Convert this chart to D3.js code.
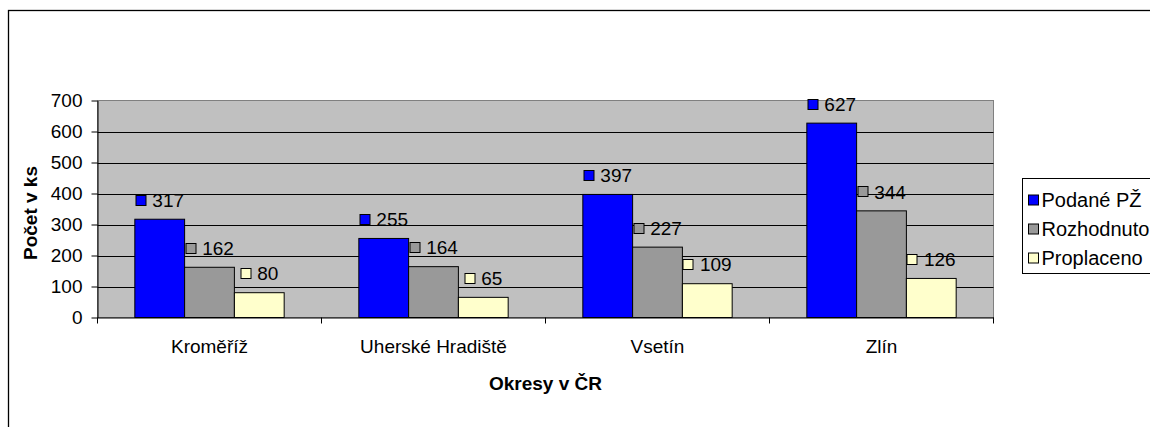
<!DOCTYPE html>
<html>
<head>
<meta charset="utf-8">
<script src="https://cdn.jsdelivr.net/npm/d3@7"></script>
<style>
  body { margin: 0; background: #fff; overflow: hidden; }
  svg { display: block; font-family: "Liberation Sans", Arial, sans-serif; }
</style>
</head>
<body>
<script>
// chart data
var categories = ["Kroměříž", "Uherské Hradiště", "Vsetín", "Zlín"];
var seriesNames = ["Podané PŽ", "Rozhodnuto", "Proplaceno"];
var podane = [317, 255, 397, 627];
var rozhodnuto = [162, 164, 227, 344];
var proplaceno = [80, 65, 109, 126];
var yTicks = [0, 100, 200, 300, 400, 500, 600, 700];
var colors = ["#0000FF", "#999999", "#FFFFCC"];

var width = 1150, height = 427;
var plot = {left: 97.5, right: 993.5, top: 100.5, bottom: 317.5};
var fontSize = 19;

var svg = d3.select("body").append("svg")
    .attr("width", width)
    .attr("height", height);

// outer chart frame (right and bottom edges fall outside the picture)
svg.append("rect")
    .attr("x", 8.5).attr("y", 10.5)
    .attr("width", 1300).attr("height", 600)
    .attr("fill", "#fff")
    .attr("stroke", "#000")
    .attr("stroke-width", 1.3);

var y = d3.scaleLinear().domain([0, 700]).range([plot.bottom, plot.top]);
var x0 = d3.scaleBand().domain(categories).range([plot.left, plot.right]);
var x1 = d3.scaleBand().domain(seriesNames).range([0, x0.bandwidth()])
    .paddingInner(0).paddingOuter(0.75);

// plot background
svg.append("rect")
    .attr("x", plot.left).attr("y", plot.top)
    .attr("width", plot.right - plot.left)
    .attr("height", plot.bottom - plot.top)
    .attr("fill", "#C0C0C0")
    .attr("stroke", "#808080");

// gridlines
svg.append("g").selectAll("line")
    .data(yTicks.filter(function(t) { return t > 0 && t < 700; }))
    .enter().append("line")
    .attr("x1", plot.left).attr("x2", plot.right)
    .attr("y1", function(d) { return Math.round(y(d)) + 0.5; })
    .attr("y2", function(d) { return Math.round(y(d)) + 0.5; })
    .attr("stroke", "#000");

// y axis
var yAxis = svg.append("g")
    .attr("transform", "translate(" + plot.left + ",0)")
    .call(d3.axisLeft(y).tickValues(yTicks).tickSize(6).tickPadding(9).tickSizeOuter(0));
yAxis.select(".domain").attr("stroke", "#000");
yAxis.selectAll("text").attr("font-size", fontSize).attr("font-family", "Liberation Sans, Arial, sans-serif").attr("fill", "#000");

// x axis
var xAxis = svg.append("g")
    .attr("transform", "translate(0," + plot.bottom + ")")
    .call(d3.axisBottom(x0).tickSize(0).tickPadding(22));
xAxis.select(".domain").attr("stroke", "#000");
xAxis.selectAll("text").attr("font-size", fontSize).attr("font-family", "Liberation Sans, Arial, sans-serif").attr("fill", "#000");
// tick marks between categories
svg.append("g").selectAll("line")
    .data(categories.concat(["end"]))
    .enter().append("line")
    .attr("x1", function(d, i) { return plot.left + i * x0.step(); })
    .attr("x2", function(d, i) { return plot.left + i * x0.step(); })
    .attr("y1", plot.bottom).attr("y2", plot.bottom + 6)
    .attr("stroke", "#000");

// bars
var rows = categories.map(function(c, i) {
    return {cat: c, vals: [podane[i], rozhodnuto[i], proplaceno[i]]};
});

var groups = svg.append("g").selectAll("g")
    .data(rows)
    .enter().append("g")
    .attr("transform", function(d) { return "translate(" + x0(d.cat) + ",0)"; });

groups.selectAll("rect")
    .data(function(d) { return d.vals.map(function(v, j) { return {s: seriesNames[j], v: v, j: j}; }); })
    .enter().append("rect")
    .attr("x", function(d) { return x1(d.s); })
    .attr("y", function(d) { return y(d.v); })
    .attr("width", x1.bandwidth())
    .attr("height", function(d) { return plot.bottom - y(d.v); })
    .attr("fill", function(d) { return colors[d.j]; })
    .attr("stroke", "#000")
    .attr("stroke-width", 1);

// value labels with legend key
groups.each(function(row) {
    var g = d3.select(this);
    row.vals.forEach(function(v, j) {
        var cx = x1(seriesNames[j]) + x1.bandwidth() / 2;
        var cy = y(v) - 19;
        var lab = g.append("g");
        var t = lab.append("text")
            .attr("font-size", fontSize)
            .attr("dy", "0.35em")
            .attr("fill", "#000")
            .text(v);
        var tw = t.node().getComputedTextLength();
        var total = 11 + 6 + tw;
        var left = cx - total / 2;
        t.attr("x", left + 17).attr("y", cy);
        lab.append("rect")
            .attr("x", Math.round(left) + 0.5).attr("y", Math.round(cy - 5.5) + 0.5)
            .attr("width", 10).attr("height", 10)
            .attr("fill", colors[j])
            .attr("stroke", "#000");
    });
});

// axis titles
svg.append("text")
    .attr("x", (plot.left + plot.right) / 2)
    .attr("y", 390)
    .attr("text-anchor", "middle")
    .attr("font-size", fontSize)
    .attr("font-weight", "bold")
    .text("Okresy v ČR");

svg.append("text")
    .attr("transform", "translate(36.5,213) rotate(-90)")
    .attr("text-anchor", "middle")
    .attr("font-size", fontSize)
    .attr("font-weight", "bold")
    .text("Počet v ks");

// legend
var legend = svg.append("g").attr("transform", "translate(1022.5,178.5)");
legend.append("rect")
    .attr("width", 200).attr("height", 95)
    .attr("fill", "#fff")
    .attr("stroke", "#000");
seriesNames.forEach(function(s, i) {
    var ly = 21.5 + i * 29;
    legend.append("rect")
        .attr("x", 6).attr("y", ly - 5)
        .attr("width", 10).attr("height", 10)
        .attr("fill", colors[i])
        .attr("stroke", "#000");
    legend.append("text")
        .attr("x", 19).attr("y", ly)
        .attr("dy", "0.35em")
        .attr("font-size", fontSize + 1)
        .text(s);
});
</script>
</body>
</html>
